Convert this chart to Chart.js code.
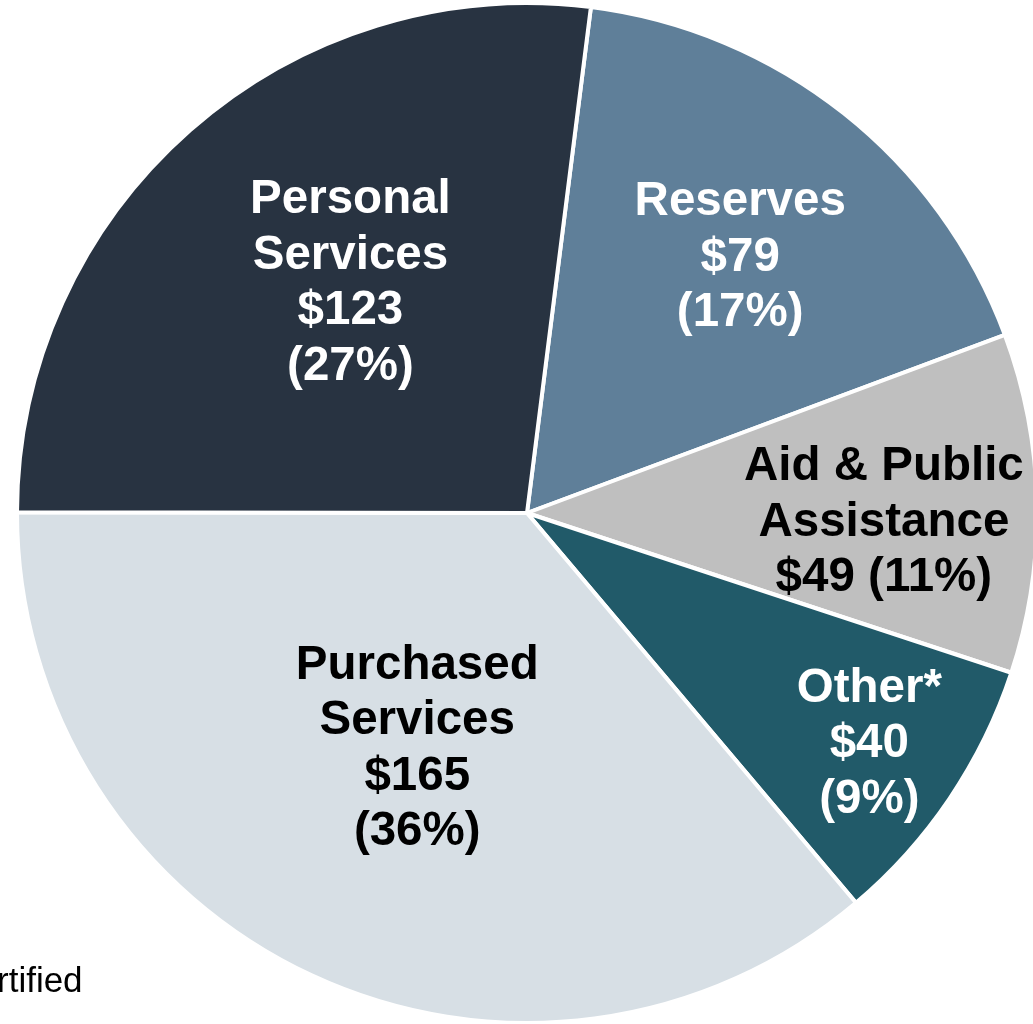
<!DOCTYPE html>
<html>
<head>
<meta charset="utf-8">
<script src="https://cdn.jsdelivr.net/npm/chart.js@4/dist/chart.umd.min.js"></script>
<style>
  html, body { margin: 0; padding: 0; background: #fff; overflow: hidden; }
  body { width: 1033px; height: 1024px; position: relative; }
  #wrap { position: absolute; left: 15px; top: 1px; width: 1024px; height: 1024px; }
  #note { position: absolute; left: -3px; top: 962px; font: 35px "Liberation Sans", Arial, sans-serif; line-height: 1; color: #000; }
</style>
</head>
<body>
<div id="wrap"><canvas id="pie" width="1024" height="1024"></canvas></div>
<div id="note">rtified</div>
<script>
// spending categories, clockwise from just right of 12 o'clock
const categories = ["Reserves", "Aid & Public Assistance", "Other*", "Purchased Services", "Personal Services"];
const amounts = [79, 49, 40, 165, 123];
const percents = [17, 11, 9, 36, 27];
// label lines as they are broken in the picture
const labelLines = [
  ["Reserves", "$79", "(17%)"],
  ["Aid & Public", "Assistance", "$49 (11%)"],
  ["Other*", "$40", "(9%)"],
  ["Purchased", "Services", "$165", "(36%)"],
  ["Personal", "Services", "$123", "(27%)"],
];

const sliceColors = ["#5f7f99", "#bfbfbf", "#215a69", "#d7dfe5", "#283341"];
const textColors = ["#ffffff", "#000000", "#ffffff", "#000000", "#ffffff"];
/* where each label sits: share of the radius, and a small turn (degrees) off the slice middle */
const labelRadius = [0.652, 0.70, 0.81, 0.51, 0.568];
const labelTurn = [1.5, 2.6, 0, 0, 3.8];

const sliceLabels = {
  id: "sliceLabels",
  afterDatasetsDraw(chart) {
    const ctx = chart.ctx;
    const arcs = chart.getDatasetMeta(0).data;
    ctx.save();
    ctx.font = "bold 47.5px 'Liberation Sans', Arial, sans-serif";
    ctx.textAlign = "center";
    ctx.textBaseline = "middle";
    const lineHeight = 55.5;
    arcs.forEach((arc, i) => {
      const mid = (arc.startAngle + arc.endAngle) / 2 + labelTurn[i] * Math.PI / 180;
      const r = arc.outerRadius * labelRadius[i];
      const cx = arc.x + Math.cos(mid) * r;
      const cy = arc.y + Math.sin(mid) * r;
      const lines = labelLines[i];
      ctx.fillStyle = textColors[i];
      lines.forEach((line, j) => {
        ctx.fillText(line, cx, cy + (j - (lines.length - 1) / 2) * lineHeight);
      });
    });
    ctx.restore();
  },
};

new Chart(document.getElementById("pie"), {
  type: "pie",
  data: {
    labels: categories,
    datasets: [{
      data: amounts,
      backgroundColor: sliceColors,
      borderColor: "#ffffff",
      borderWidth: 4,
    }],
  },
  options: {
    responsive: false,
    animation: false,
    rotation: 7.2,
    layout: { padding: 0 },
    plugins: {
      legend: { display: false },
      tooltip: { enabled: false },
    },
  },
  plugins: [sliceLabels],
});
</script>
</body>
</html>
